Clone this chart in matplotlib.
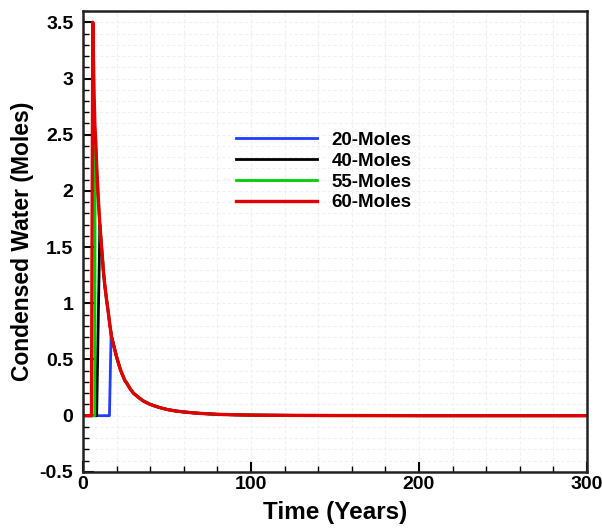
import matplotlib
matplotlib.use("Agg")
import matplotlib.pyplot as plt
from matplotlib.ticker import MultipleLocator, FormatStrFormatter

plt.rcParams['font.family'] = ['Liberation Sans', 'DejaVu Sans']
plt.rcParams['font.weight'] = 'bold'

# shared decay tail (the 60-mole curve after its peak)
tail_t = [5.8, 6.5, 7, 7.5, 8, 8.5, 9, 9.5, 10, 10.5, 11, 11.7, 12, 13, 14, 15, 16, 16.7, 17, 18, 19,
          20, 21, 22, 23, 25, 26, 28, 30, 32, 35, 36, 40, 45, 50, 55, 60, 65, 70, 75, 80, 90, 100,
          120, 150, 200, 300]
tail_v = [3.5, 2.9, 2.6, 2.45, 2.25, 2.1, 1.95, 1.82, 1.7, 1.6, 1.5, 1.37, 1.3, 1.15, 1.03, 0.92, 0.8,
          0.73, 0.7, 0.64, 0.58, 0.52, 0.47, 0.42, 0.38, 0.31, 0.29, 0.24, 0.2, 0.175, 0.14, 0.13, 0.1,
          0.075, 0.055, 0.042, 0.033, 0.026, 0.02, 0.016, 0.012, 0.008, 0.005, 0.003, 0.001, 0, 0]

# start of each curve: zero until the jump, then the jump top
labels = ["20-Moles", "40-Moles", "55-Moles", "60-Moles"]
colors = ["#1f3dff", "#000000", "#00cc00", "#e00000"]
jump_t = [15.7, 8.1, 7.0, 5.0]
jump_top_t = [16.7, 10.0, 7.2, 5.8]
jump_top_v = [0.73, 1.7, 2.5, 3.5]

fig = plt.figure(figsize=(6.02, 5.29), dpi=100)
ax = fig.add_axes([0.138, 0.108, 0.837, 0.871])

for lab, c, jt, pt, pv in zip(labels, colors, jump_t, jump_top_t, jump_top_v):
    t = [0, jt, pt] + [a for a in tail_t if a > pt]
    v = [0, 0, pv] + [b for a, b in zip(tail_t, tail_v) if a > pt]
    lw = 2.4 if lab == "60-Moles" else 2.0
    ax.plot(t, v, color=c, lw=lw, label=lab)

ax.set_xlim(0, 300)
ax.set_ylim(-0.5, 3.6)
ax.xaxis.set_major_locator(MultipleLocator(100))
ax.xaxis.set_minor_locator(MultipleLocator(20))
ax.yaxis.set_major_locator(MultipleLocator(0.5))
ax.yaxis.set_minor_locator(MultipleLocator(0.1))
ax.yaxis.set_major_formatter(FormatStrFormatter('%g'))

ax.grid(True, which='both', color='#f0f0f0', linestyle=(0, (3, 2)), linewidth=0.8)
ax.set_axisbelow(True)

ax.tick_params(which='major', direction='in', length=8, width=1.5, labelsize=14)
ax.tick_params(axis='x', which='major', pad=3)
ax.tick_params(axis='y', which='major', pad=7)
ax.tick_params(which='minor', direction='in', length=4, width=1.0)
for s in ax.spines.values():
    s.set_linewidth(1.8)
    s.set_color('#222222')

ax.set_xlabel("Time (Years)", fontsize=17.5, fontweight='bold', labelpad=6)
ax.set_ylabel("Condensed Water (Moles)", fontsize=16.5, fontweight='bold', labelpad=4)

leg = ax.legend(loc='upper left', bbox_to_anchor=(0.27, 0.775), frameon=False,
                fontsize=13.5, handlelength=4.3, handletextpad=0.8, labelspacing=0.2)

fig.savefig("out.png", dpi=100)
